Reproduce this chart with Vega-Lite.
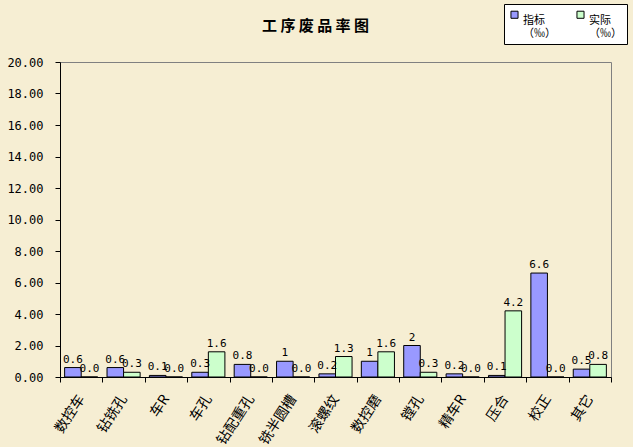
{
  "$schema": "https://vega.github.io/schema/vega-lite/v6.json",
  "autosize": "none",
  "width": 551,
  "height": 315,
  "padding": {"left": 60, "top": 62, "right": 22, "bottom": 70},
  "background": "#f6eed3",
  "title": {
    "text": "工 序 废 品 率 图",
    "font": "Noto Sans CJK SC",
    "fontSize": 15,
    "fontWeight": "bold",
    "color": "#000000",
    "anchor": "middle",
    "frame": "group",
    "dx": -20,
    "offset": -30
  },
  "data": {
    "values": [
      {"cat": "数控车", "series": "指标", "value": 0.6},
      {"cat": "数控车", "series": "实际", "value": 0.0},
      {"cat": "钻铣孔", "series": "指标", "value": 0.6},
      {"cat": "钻铣孔", "series": "实际", "value": 0.3},
      {"cat": "车R", "series": "指标", "value": 0.1},
      {"cat": "车R", "series": "实际", "value": 0.0},
      {"cat": "车孔", "series": "指标", "value": 0.3},
      {"cat": "车孔", "series": "实际", "value": 1.6},
      {"cat": "钻配重孔", "series": "指标", "value": 0.8},
      {"cat": "钻配重孔", "series": "实际", "value": 0.0},
      {"cat": "铣半圆槽", "series": "指标", "value": 1},
      {"cat": "铣半圆槽", "series": "实际", "value": 0.0},
      {"cat": "滚螺纹", "series": "指标", "value": 0.2},
      {"cat": "滚螺纹", "series": "实际", "value": 1.3},
      {"cat": "数控磨", "series": "指标", "value": 1},
      {"cat": "数控磨", "series": "实际", "value": 1.6},
      {"cat": "镗孔", "series": "指标", "value": 2},
      {"cat": "镗孔", "series": "实际", "value": 0.3},
      {"cat": "精车R", "series": "指标", "value": 0.2},
      {"cat": "精车R", "series": "实际", "value": 0.0},
      {"cat": "压合", "series": "指标", "value": 0.1},
      {"cat": "压合", "series": "实际", "value": 4.2},
      {"cat": "校正", "series": "指标", "value": 6.6},
      {"cat": "校正", "series": "实际", "value": 0.0},
      {"cat": "其它", "series": "指标", "value": 0.5},
      {"cat": "其它", "series": "实际", "value": 0.8}
    ]
  },
  "encoding": {
    "x": {
      "field": "cat",
      "type": "nominal",
      "sort": null,
      "title": null,
      "scale": {"paddingInner": 0, "paddingOuter": 0},
      "axis": {
        "tickBand": "extent",
        "labelAngle": -57,
        "labelAlign": "right",
        "labelBaseline": "middle",
        "labelPadding": 14,
        "labelFont": "Noto Sans CJK SC",
        "labelFontSize": 14,
        "labelColor": "#000000",
        "domainColor": "#000000",
        "tickColor": "#000000",
        "tickSize": 5
      }
    },
    "xOffset": {
      "field": "series",
      "type": "nominal",
      "sort": ["指标", "实际"],
      "scale": {"paddingInner": 0, "paddingOuter": 0.28}
    },
    "y": {
      "field": "value",
      "type": "quantitative",
      "title": null,
      "scale": {"domain": [0, 20], "nice": false},
      "axis": {
        "values": [0, 2, 4, 6, 8, 10, 12, 14, 16, 18, 20],
        "format": ".2f",
        "grid": false,
        "labelFont": "DejaVu Sans Mono",
        "labelFontSize": 12,
        "labelColor": "#000000",
        "labelPadding": 12,
        "domainColor": "#000000",
        "tickColor": "#000000",
        "tickSize": 5
      }
    }
  },
  "layer": [
    {
      "mark": {"type": "bar", "stroke": "#000000", "strokeWidth": 1},
      "encoding": {
        "color": {
          "field": "series",
          "type": "nominal",
          "scale": {"domain": ["指标", "实际"], "range": ["#9999ff", "#ccffcc"]},
          "legend": {
            "title": null,
            "orient": "none",
            "legendX": 444,
            "legendY": -58,
            "direction": "horizontal",
            "columns": 2,
            "columnPadding": 18,
            "fillColor": "#ffffff",
            "strokeColor": "#000000",
            "padding": 5,
            "symbolType": "square",
            "symbolSize": 50,
            "symbolStrokeColor": "#000000",
            "symbolStrokeWidth": 1,
            "labelFont": "Noto Sans CJK SC",
            "labelFontSize": 11,
            "labelColor": "#000000",
            "labelBaseline": "top",
            "labelOffset": 3,
            "labelExpr": "[datum.label, ' （‰）']"
          }
        }
      }
    },
    {
      "transform": [{"filter": "datum.series == '指标'"}],
      "mark": {"type": "text", "baseline": "bottom", "dy": -3, "font": "DejaVu Sans Mono", "fontSize": 11, "color": "#000000"},
      "encoding": {"text": {"field": "value", "type": "quantitative"}}
    },
    {
      "transform": [{"filter": "datum.series == '实际'"}],
      "mark": {"type": "text", "baseline": "bottom", "dy": -3, "font": "DejaVu Sans Mono", "fontSize": 11, "color": "#000000"},
      "encoding": {"text": {"field": "value", "type": "quantitative", "format": ".1f"}}
    }
  ],
  "config": {
    "view": {"stroke": "#808080", "strokeWidth": 1}
  }
}
